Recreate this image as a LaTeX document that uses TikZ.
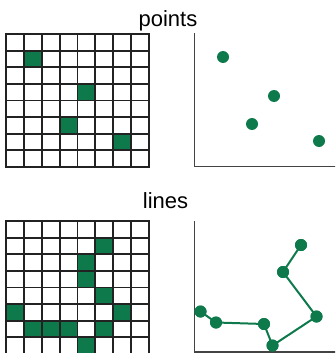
\documentclass[tikz,border=0pt]{standalone}
\usepackage{fontspec}
\setmainfont{Liberation Sans}
\definecolor{dotgreen}{HTML}{0E7A4C}
\definecolor{gridline}{HTML}{222222}
\begin{document}
\begin{tikzpicture}[x=1pt,y=-1pt,
  cell/.style={fill=dotgreen},
  gridl/.style={draw=gridline,line width=1.8pt},
  axis/.style={draw=gridline!85!white,line width=1.8pt},
  dot/.style={circle,fill=dotgreen,inner sep=0pt,minimum size=12pt},
  link/.style={draw=dotgreen,line width=2pt},
  lbl/.style={font=\fontsize{22}{26}\selectfont,anchor=base,inner sep=0pt}]
\useasboundingbox (0,0) rectangle (335,353);
\clip (0,0) rectangle (335,353);
\def\cw{17.875}
\def\ch{16.625}
% labels
\node[lbl] (tp) at (168,27) {points};
\node[lbl] (tl) at (165.5,208) {lines};
% top grid filled cells
\foreach \c/\r in {1/1,4/3,3/5,6/6}
  \fill[cell] ({6+\c*\cw},{34+\r*\ch}) rectangle ++(\cw,\ch);
% bottom grid filled cells
\foreach \c/\r in {5/1,4/2,4/3,5/4,0/5,6/5,1/6,2/6,3/6,5/6,4/7}
  \fill[cell] ({6+\c*\cw},{221+\r*\ch}) rectangle ++(\cw,\ch);
% grids
\foreach \o in {34,221}{
  \foreach \i in {0,...,8}{
    \draw[gridl] ({6+\i*\cw},\o-0.9) -- ({6+\i*\cw},{\o+8*\ch+0.9});
    \draw[gridl] (6-0.9,{\o+\i*\ch}) -- ({6+8*\cw+0.9},{\o+\i*\ch});
  }
}
% axes
\draw[axis] (194.5,33.5) -- (194.5,166.5) -- (336,166.5);
\draw[axis] (194.5,221) -- (194.5,352) -- (336,352);
% points
\node[dot] (p1) at (223,57) {};
\node[dot] (p2) at (274,96) {};
\node[dot] (p3) at (252,124) {};
\node[dot] (p4) at (319,141) {};
% lines
\node[dot] (l1) at (200.5,311.5) {};
\node[dot] (l2) at (216,322.5) {};
\node[dot] (l3) at (264,324) {};
\node[dot] (l4) at (272.5,345.5) {};
\node[dot] (l5) at (316.5,316.5) {};
\node[dot] (l6) at (283,272) {};
\node[dot] (l7) at (301,245) {};
\begin{scope}[on background layer/.try]
\end{scope}
\draw[link] (l1.center) -- (l2.center) -- (l3.center) -- (l4.center) -- (l5.center) -- (l6.center) -- (l7.center);
\foreach \n in {l1,l2,l3,l4,l5,l6,l7}
  \fill[dotgreen] (\n) circle (6pt);
\end{tikzpicture}
\end{document}
